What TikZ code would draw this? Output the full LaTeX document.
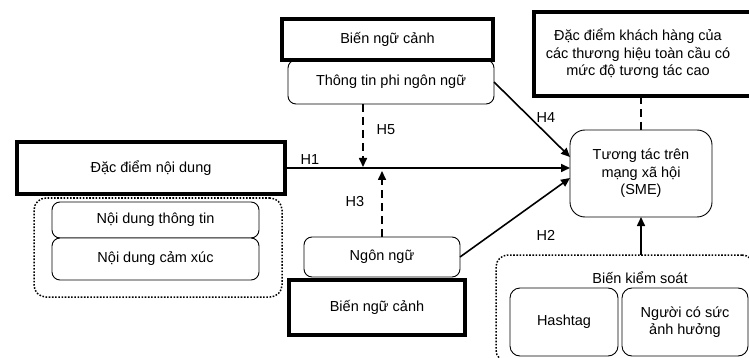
\documentclass[tikz,border=0pt]{standalone}
\usepackage{fontspec}
\setmainfont{Liberation Sans}
\usetikzlibrary{arrows.meta}
\begin{document}
\begin{tikzpicture}[x=1pt,y=-1pt,
  every node/.style={font=\fontsize{14.5}{17.5}\selectfont, inner sep=0pt, outer sep=0pt},
  thickbox/.style={draw, line width=4pt, rectangle, align=center},
  softbox/.style={draw, line width=0.9pt, rounded corners=8pt, align=center, fill=white},
  groupbox/.style={draw, line width=1.5pt, dash pattern=on 1.6pt off 1.6pt, rounded corners=12pt},
  harrow/.style={line width=1.6pt, -{Triangle[length=9pt,width=8pt]}},
  darrow/.style={harrow, dash pattern=on 8pt off 5pt},
  dline/.style={line width=1.6pt, dash pattern=on 8pt off 5pt},
  hlabel/.style={}
]
\useasboundingbox (0,0) rectangle (749,358);

% top context
\node[softbox, minimum width=206pt, minimum height=44pt] (ttphi) at (391,82) {\raisebox{0pt}{Thông tin phi ngôn ngữ}};
\node[thickbox, minimum width=211pt, minimum height=41pt, fill=white] (ctxtop) at (387.5,39.5) {Biến ngữ cảnh};

% customer
\node[thickbox, minimum width=218pt, minimum height=84pt] (cust) at (643,54) {};
\node[align=center] (custtext) at (638,54) {Đặc điểm khách hàng của\\các thương hiệu toàn cầu có\\mức độ tương tác cao};

% SME
\node[softbox, rounded corners=15pt, minimum width=142pt, minimum height=87pt] (sme) at (641,173.5) {Tương tác trên\\mạng xã hội\\(SME)};

% content
\node[thickbox, minimum width=268pt, minimum height=52pt] (ndung) at (151,168) {Đặc điểm nội dung};
\node[groupbox, minimum width=248pt, minimum height=99pt] (grpl) at (158,247.5) {};
\node[softbox, minimum width=207pt, minimum height=36pt] (ndtt) at (155.5,220) {Nội dung thông tin};
\node[softbox, minimum width=207pt, minimum height=42pt] (ndcx) at (155.5,259) {Nội dung cảm xúc};

% language
\node[softbox, minimum width=156pt, minimum height=40pt] (ngon) at (382,257) {Ngôn ngữ};
\node[thickbox, minimum width=176pt, minimum height=55pt, fill=white] (ctxbot) at (377,307.5) {Biến ngữ cảnh};

% control
\node[groupbox, minimum width=258pt, minimum height=107pt] (ctrl) at (625,308.5) {};
\node (ctrllabel) at (640,278) {Biến kiểm soát};
\node[softbox, rounded corners=10pt, minimum width=108pt, minimum height=68pt] (hash) at (564,322) {Hashtag};
\node[softbox, rounded corners=10pt, minimum width=126pt, minimum height=68pt] (nguoi) at (685,322) {Người có sức\\ảnh hưởng};

% connectors
\coordinate (h5end) at (363,167);
\coordinate (h3end) at (382,171);
\coordinate (h4end) at (570,157);
\coordinate (h2end) at (570,178);
\draw[harrow] (ndung.east) -- (ndung.east -| sme.west);
\draw[darrow] (ttphi.south -| h5end) -- (h5end);
\draw[darrow] (ngon.north) -- (h3end);
\draw[harrow] (ttphi.east) -- (h4end);
\draw[harrow] (ngon.east) -- (h2end);
\draw[harrow] (ctrl.north -| sme.south) -- (sme.south);
\draw[dline] (cust.south -| sme.north) -- (sme.north);

% labels
\node (h1) at (310,160) {H1};
\node (h5) at (386,130) {H5};
\node (h4) at (546,118) {H4};
\node (h3) at (355,202) {H3};
\node (h2) at (546,235) {H2};
\end{tikzpicture}
\end{document}
